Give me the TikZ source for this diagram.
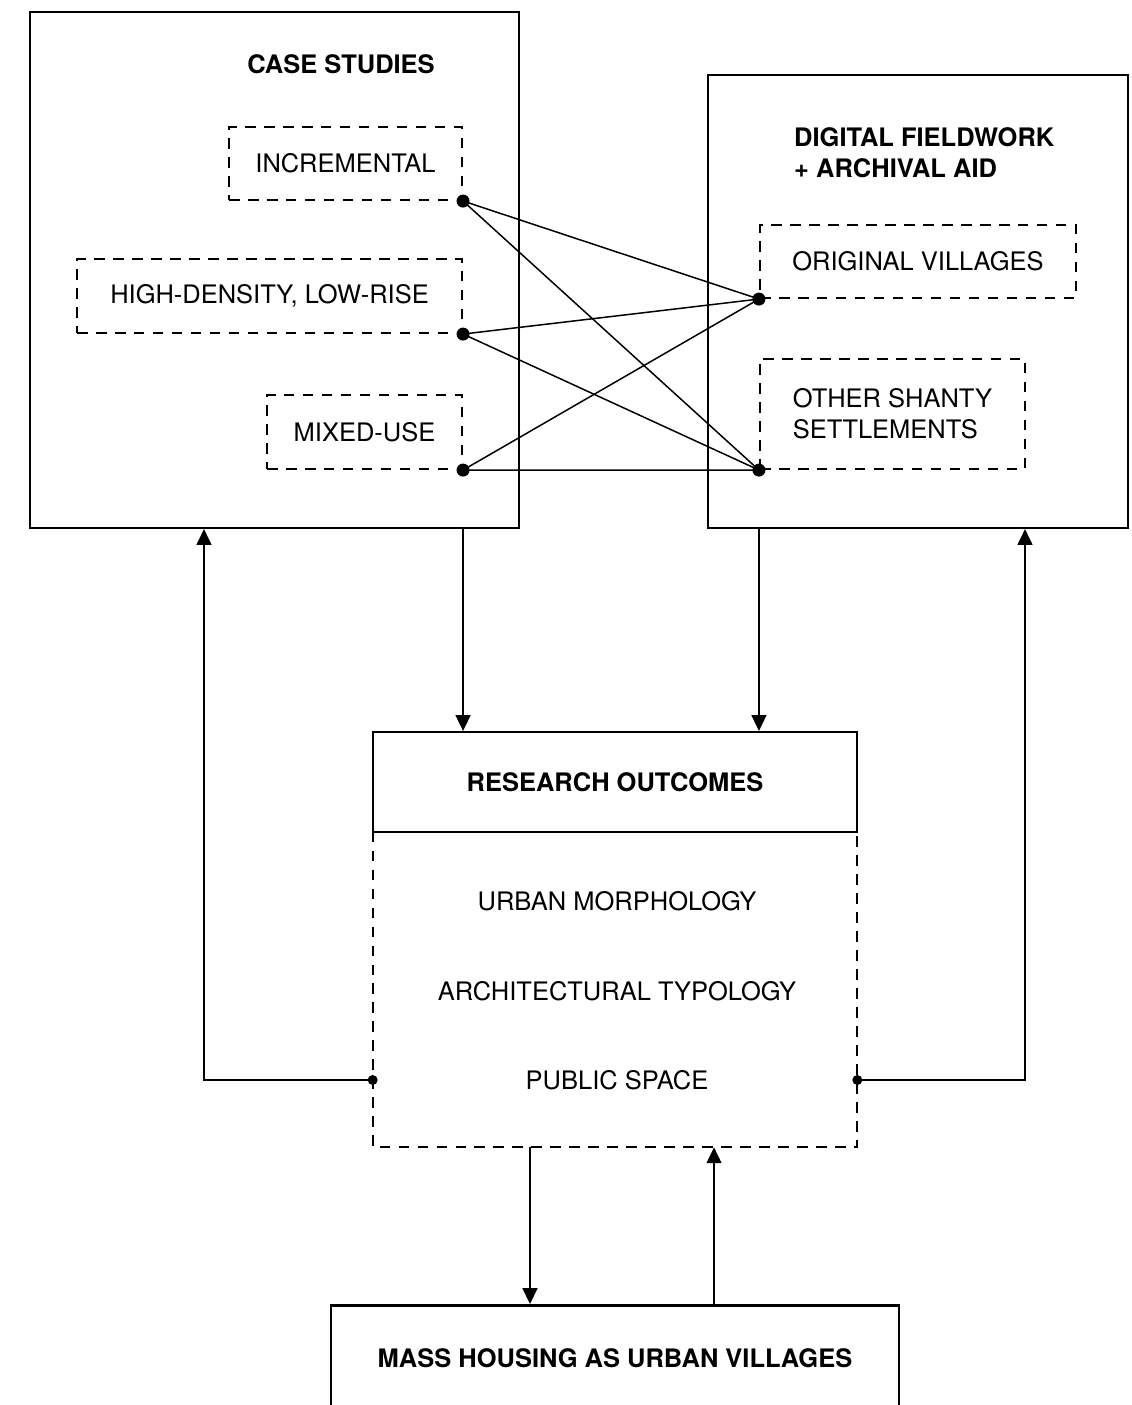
\documentclass[tikz,border=0pt]{standalone}
\usepackage{fontspec}
\setmainfont{TeX Gyre Heros}
\usetikzlibrary{arrows.meta, positioning, calc}

\begin{document}
\begin{tikzpicture}[font=\fontsize{14.5}{17.6}\selectfont, >={Triangle[length=9pt, width=8.5pt]}]
    \tikzstyle{frame} = [rectangle, draw, line width=1.2pt, inner sep=0pt]
    \tikzstyle{dashbox} = [rectangle, draw, line width=1.2pt, dash pattern=on 6pt off 4.8pt, inner sep=0pt]
    \tikzstyle{title} = [font=\fontsize{14.5}{17.6}\selectfont\bfseries]
    \tikzstyle{link} = [line width=0.85pt]
    \tikzstyle{dot} = [circle, fill, inner sep=0pt, minimum size=0.26cm]
    \tikzstyle{smalldot} = [circle, fill, inner sep=0pt, minimum size=0.2cm]

    \useasboundingbox (0,0) rectangle (22.64,-28.1);

    % case studies
    \node [frame, minimum width=9.78cm, minimum height=10.32cm] (cs) at (5.49,-5.4) {};
    \node [title] (cstitle) at (6.82,-1.28) {CASE STUDIES};
    \node [dashbox, minimum width=4.66cm, minimum height=1.46cm] (inc) at (6.91,-3.27) {INCREMENTAL};
    \node [dashbox, minimum width=7.7cm, minimum height=1.48cm] (hd) at (5.39,-5.92) {HIGH-DENSITY, LOW-RISE};
    \node [dashbox, minimum width=3.9cm, minimum height=1.48cm] (mu) at (7.29,-8.64) {MIXED-USE};

    % fieldwork
    \node [frame, minimum width=8.4cm, minimum height=9.06cm] (dw) at (18.36,-6.03) {};
    \node [title, anchor=west, align=left] (dwtitle) at (15.76,-3.05) {DIGITAL FIELDWORK\\+ ARCHIVAL AID};
    \node [dashbox, minimum width=6.32cm, minimum height=1.46cm] (ov) at (18.36,-5.23) {ORIGINAL VILLAGES};
    \node [dashbox, minimum width=5.3cm, minimum height=2.2cm, align=left] (os) at (17.85,-8.28) {OTHER SHANTY\\SETTLEMENTS};

    \node [dot] (d1) at (inc.south east) {};
    \node [dot] (d2) at (hd.south east) {};
    \node [dot] (d3) at (mu.south east) {};
    \node [dot] (d4) at (ov.south west) {};
    \node [dot] (d5) at (os.south west) {};

    \foreach \a in {d1, d2, d3}
        \foreach \b in {d4, d5}
            \draw [link] (\a.center) -- (\b.center);

    % outcomes
    \node [frame, minimum width=9.68cm, minimum height=2cm] (ro) at (12.3,-15.64) {};
    \node [title] (rotitle) at (ro.center) {RESEARCH OUTCOMES};
    \node [minimum width=9.68cm, minimum height=6.3cm, inner sep=0pt] (lst) at (12.3,-19.79) {};
    \draw [line width=1.2pt, dash pattern=on 6pt off 4.8pt]
        (lst.north west) -- (lst.south west) -- (lst.south east) -- (lst.north east);
    \node (um) at (12.34,-18.02) {URBAN MORPHOLOGY};
    \node (at) at (12.34,-19.82) {ARCHITECTURAL TYPOLOGY};
    \node (ps) at (12.34,-21.6) {PUBLIC SPACE};

    \draw [link, ->] (inc.east |- cs.south) -- (inc.east |- ro.north);
    \draw [link, ->] (ov.west |- dw.south) -- (ov.west |- ro.north);

    % feedback
    \node [smalldot] (pl) at (lst.west |- ps) {};
    \node [smalldot] (pr) at (lst.east |- ps) {};
    \coordinate (lturn) at (4.08,-21.6);
    \coordinate (rturn) at (20.5,-21.6);
    \draw [link, ->] (pl.center) -- (lturn) -- (lturn |- cs.south);
    \draw [link, ->] (pr.center) -- (rturn) -- (rturn |- dw.south);

    % mass housing
    \node [frame, line width=1.7pt, minimum width=11.36cm, minimum height=2.1cm] (mh) at (12.3,-27.16) {};
    \node [title] (mhtitle) at (mh.center) {MASS HOUSING AS URBAN VILLAGES};
    \coordinate (dnx) at (10.6,0);
    \coordinate (upx) at (14.28,0);
    \draw [link, ->] (lst.south -| dnx) -- (mh.north -| dnx);
    \draw [link, ->] (mh.north -| upx) -- (lst.south -| upx);
\end{tikzpicture}
\end{document}
